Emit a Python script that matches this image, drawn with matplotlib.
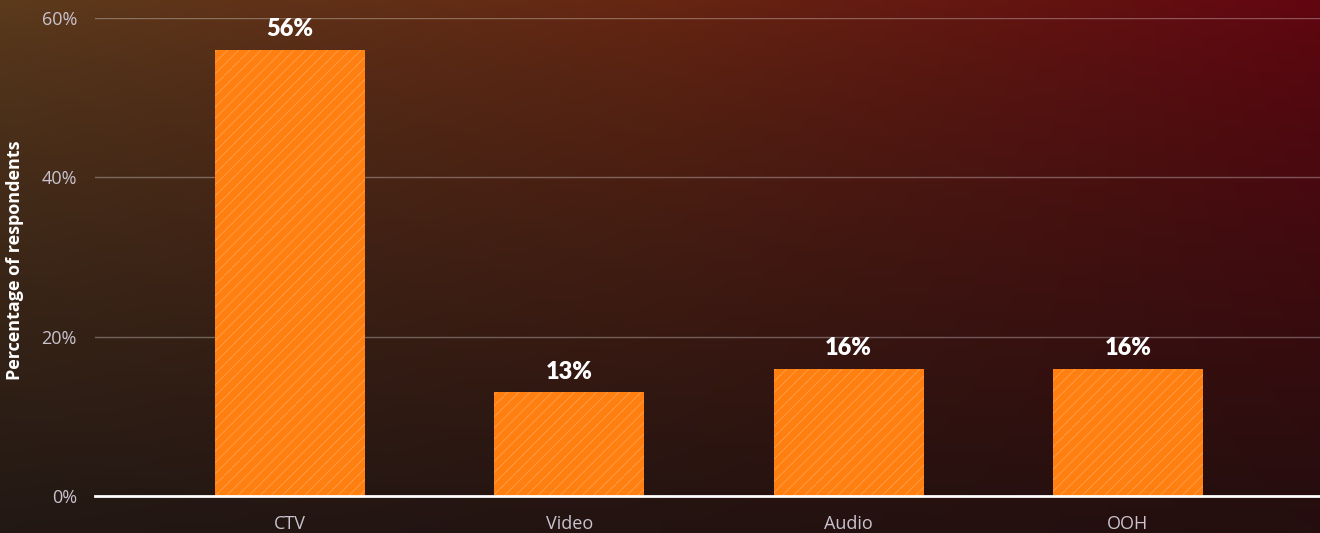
import numpy as np
import matplotlib
matplotlib.use("Agg")
import matplotlib.pyplot as plt

# survey shares by channel
channels = ["CTV", "Video", "Audio", "OOH"]
shares = [56, 13, 16, 16]
y_ticks = [0, 20, 40, 60]
y_tick_labels = ["0%", "20%", "40%", "60%"]

BAR_COLOR = "#ff7f11"
TICK_COLOR = "#c9c3cf"

plt.rcParams["font.family"] = ["Open Sans", "DejaVu Sans"]
plt.rcParams["hatch.linewidth"] = 0.5

fig = plt.figure(figsize=(13.2, 5.33), dpi=100)

# background gradient, blended from corner colours
bg = fig.add_axes([0, 0, 1, 1], zorder=-10)
tl = np.array([92, 58, 28]) / 255
tm = np.array([102, 38, 18]) / 255
tr = np.array([98, 6, 16]) / 255
bl = np.array([34, 24, 20]) / 255
br = np.array([36, 14, 14]) / 255
nx, ny = 200, 80
u = np.linspace(0, 1, nx)[None, :, None]
v = np.linspace(0, 1, ny)[:, None, None]
top = np.where(u < 0.5, tl + (tm - tl) * (u / 0.5), tm + (tr - tm) * ((u - 0.5) / 0.5))
bot = bl + (br - bl) * u
img = top * (1 - v ** 0.8) + bot * (v ** 0.8)
bg.imshow(img, aspect="auto", extent=[0, 1, 0, 1], interpolation="bicubic")
bg.axis("off")

ax = fig.add_axes([95 / 1320, 37 / 533, 1 - 95 / 1320, (496 - 18) / 533])
ax.patch.set_alpha(0)

x = np.arange(len(channels))
bars = ax.bar(x, shares, width=0.537, color=BAR_COLOR, edgecolor=(1, 1, 1, 0.3),
              linewidth=0, hatch="///", zorder=3)

for xi, val in zip(x, shares):
    ax.text(xi, val + 1.2, f"{val}%", ha="center", va="bottom", color="white",
            fontsize=17, fontweight="heavy", family=["Lato", "DejaVu Sans"], zorder=4)

ax.set_xlim(-0.698, 3.688)
ax.set_ylim(0, 60)
ax.set_yticks(y_ticks)
ax.set_yticklabels(y_tick_labels)
ax.set_xticks(x)
ax.set_xticklabels(channels)
ax.tick_params(axis="both", length=0, colors=TICK_COLOR, labelsize=13)
ax.tick_params(axis="y", pad=13)
ax.tick_params(axis="x", pad=14)

ax.grid(axis="y", color="white", alpha=0.3, linewidth=1)
ax.set_axisbelow(True)
for side in ["top", "right", "left"]:
    ax.spines[side].set_visible(False)
ax.spines["bottom"].set_color("white")
ax.spines["bottom"].set_linewidth(2)
ax.spines["bottom"].set_zorder(5)

fig.text(15 / 1320, 1 - 260 / 533, "Percentage of respondents", rotation=90,
         ha="center", va="center", color="white", fontsize=13, fontweight="bold")

fig.savefig("out.png", dpi=100)
